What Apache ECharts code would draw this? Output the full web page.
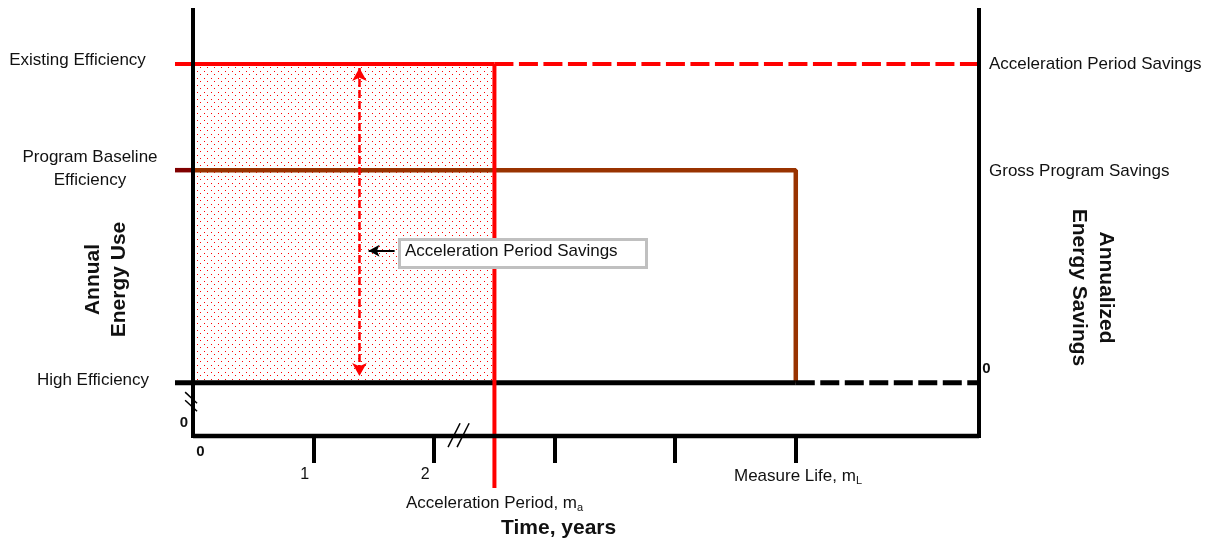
<!DOCTYPE html>
<html>
<head>
<meta charset="utf-8">
<script src="https://cdn.jsdelivr.net/npm/echarts@6/dist/echarts.min.js"></script>
<style>
html,body{margin:0;padding:0;background:#fff;}
#chart{width:1214px;height:541px;}
</style>
</head>
<body>
<div id="chart"></div>
<script>
// ---- data (years on x, relative annual energy use on y) ----
const xTicks = [1, 2, 3, 4, 5];
const xTickLabels = [1, 2];
const xMin = -0.15;
const xMax = 6.52;
const yMax = 100;
const accelerationPeriod = 2.5;
const measureLife = 5;
const existingEff = 87.3;
const baselineEff = 62.4;
const highEff = 12.5;
const leftLabels = ['Existing Efficiency', 'Program Baseline\nEfficiency', 'High Efficiency'];
const rightLabels = ['Acceleration Period Savings', 'Gross Program Savings'];
const calloutText = 'Acceleration Period Savings';
const arrowX = 1.38;
const arrowY = [86.4, 14.1];
const calloutArrow = [[1.672, 43.5], [1.456, 43.5]];
const breakBottom = [[[2.115, -2.6], [2.215, 3.0]], [[2.19, -2.6], [2.29, 3.0]]];
const breakLeft = [[[-0.066, 10.3], [0.033, 7.7]], [[-0.066, 8.4], [0.033, 5.8]]];
const redLineBottom = -12.2;

const FONT = '"Liberation Sans", Arial, Helvetica, sans-serif';
const TXT = '#111';

// dotted red fill pattern
const pc = document.createElement('canvas');
pc.width = 7; pc.height = 7;
const pctx = pc.getContext('2d');
pctx.fillStyle = '#ff0000';
pctx.fillRect(1, 1, 1, 1);
pctx.fillRect(4, 4, 1, 1);

function seg(points, color, width, type, z) {
  return {
    type: 'line', data: points, symbol: 'none', clip: false, silent: true,
    animation: false, z: z || 3,
    lineStyle: { color: color, width: width, type: type || 'solid', cap: 'butt' }
  };
}

const series = [
  {
    type: 'line', data: [], silent: true, animation: false,
    markArea: {
      silent: true,
      itemStyle: { color: { image: pc, repeat: 'repeat' } },
      data: [[{ coord: [0, highEff] }, { coord: [accelerationPeriod, existingEff] }]]
    }
  },
  // existing efficiency (solid then dashed)
  seg([[xMin, existingEff], [accelerationPeriod, existingEff]], '#ff0000', 4),
  seg([[accelerationPeriod, existingEff], [xMax, existingEff]], '#ff0000', 4, [19, 5.5]),
  // program baseline
  seg([[xMin, baselineEff], [0, baselineEff]], '#800000', 4.5),
  seg([[0, baselineEff], [measureLife, baselineEff], [measureLife, highEff]], '#993300', 4.5),
  // high efficiency
  seg([[xMin, highEff], [measureLife, highEff]], '#000', 5),
  seg([[measureLife, highEff], [xMax, highEff]], '#000', 5, [19, 5.5]),
  // acceleration period marker
  seg([[accelerationPeriod, existingEff], [accelerationPeriod, redLineBottom]], '#ff0000', 4, 'solid', 4),
  // time axis baseline
  seg([[0, 0], [xMax, 0]], '#000', 4.5, 'solid', 9),
  // axis breaks
  seg(breakBottom[0], '#000', 1.5), seg(breakBottom[1], '#000', 1.5),
  seg(breakLeft[0], '#000', 1.5), seg(breakLeft[1], '#000', 1.5),
  // arrows
  {
    type: 'line', data: [], silent: true, animation: false,
    markLine: {
      silent: true, animation: false,
      label: { show: false },
      data: [
        [{ coord: [arrowX, arrowY[0]], symbol: 'arrow', symbolSize: [11, 13],
           lineStyle: { color: '#ff0000', width: 2.5, type: [8, 3] }, itemStyle: { color: '#ff0000' } },
         { coord: [arrowX, arrowY[1]], symbol: 'arrow', symbolSize: [11, 13] }],
        [{ coord: calloutArrow[0], symbol: 'none',
           lineStyle: { color: '#000', width: 2, type: 'solid' }, itemStyle: { color: '#000' } },
         { coord: calloutArrow[1], symbol: 'arrow', symbolSize: [9, 11] }]
      ]
    }
  }
];

function t(x, y, text, o) {
  o = o || {};
  return {
    type: 'text', x: x, y: y, rotation: o.rotation || 0, z: 100, silent: true,
    style: {
      text: text, fill: TXT, fontFamily: FONT,
      fontSize: o.size || 17, fontWeight: o.bold ? 'bold' : 'normal',
      align: o.align || 'left', verticalAlign: 'middle',
      lineHeight: o.lh || undefined, rich: o.rich
    }
  };
}

const subRich = { sub: { fontSize: 11, fontFamily: FONT, fill: TXT, padding: [9, 0, 0, 0] } };

const graphics = [
  {
    type: 'rect', z: 90, silent: true,
    shape: { x: 399.5, y: 239.5, width: 247, height: 28 },
    style: { fill: '#fff', stroke: '#c0c0c0', lineWidth: 3 }
  },
  t(405, 251, calloutText),
  t(77.5, 60.5, leftLabels[0], { align: 'center' }),
  t(90, 168.5, leftLabels[1], { align: 'center', lh: 23 }),
  t(93, 380.5, leftLabels[2], { align: 'center' }),
  t(989, 64, rightLabels[0]),
  t(989, 171.5, rightLabels[1]),
  t(106, 279.5, 'Annual\nEnergy Use', { bold: true, size: 21, lh: 26, align: 'center', rotation: Math.PI / 2 }),
  t(1092, 287.5, 'Annualized\nEnergy Savings', { bold: true, size: 21, lh: 27, align: 'center', rotation: -Math.PI / 2 }),
  t(200.5, 451.5, '0', { bold: true, size: 15, align: 'center' }),
  t(184, 422.5, '0', { bold: true, size: 15, align: 'center' }),
  t(986.5, 368.5, '0', { bold: true, size: 15, align: 'center' }),
  t(406, 503, 'Acceleration Period, m{sub|a}', { rich: subRich }),
  t(734, 476.5, 'Measure Life, m{sub|L}', { rich: subRich }),
  t(501, 528, 'Time, years', { bold: true, size: 21 })
];

const chart = echarts.init(document.getElementById('chart'), null, { renderer: 'canvas' });
chart.setOption({
  animation: false,
  backgroundColor: '#fff',
  grid: { left: 175, right: 235, top: 10, bottom: 105, containLabel: false },
  xAxis: {
    type: 'value', min: xMin, max: xMax, z: 10,
    splitLine: { show: false },
    axisLine: { show: false },
    axisTick: { show: true, customValues: xTicks, length: 27, lineStyle: { color: '#000', width: 4 } },
    axisLabel: {
      show: true, customValues: xTickLabels, margin: 31, color: TXT,
      fontFamily: FONT, fontSize: 16, padding: [0, 18, 0, 0]
    }
  },
  yAxis: [
    {
      type: 'value', min: 0, max: yMax, position: 'left', z: 10,
      splitLine: { show: false }, axisTick: { show: false }, axisLabel: { show: false },
      axisLine: { show: true, onZero: true, lineStyle: { color: '#000', width: 4, cap: 'square' } }
    },
    {
      type: 'value', min: 0, max: yMax, position: 'right', z: 10,
      splitLine: { show: false }, axisTick: { show: false }, axisLabel: { show: false },
      axisLine: { show: true, onZero: false, lineStyle: { color: '#000', width: 4, cap: 'square' } }
    }
  ],
  series: series,
  graphic: graphics
});
</script>
</body>
</html>
